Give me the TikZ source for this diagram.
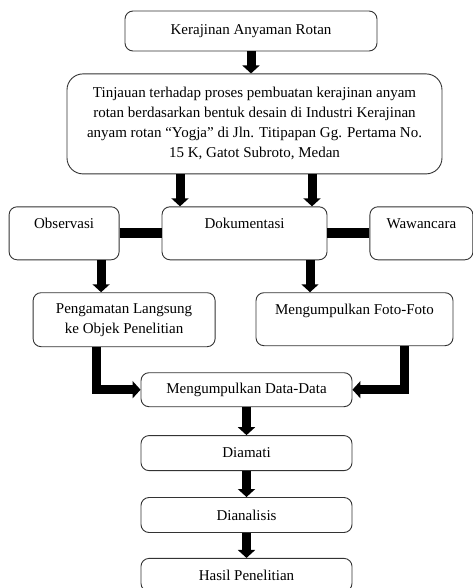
\documentclass[tikz,border=0pt]{standalone}
\usepackage{fontspec}
\setmainfont{Liberation Serif}
\usetikzlibrary{arrows.meta,positioning}
\tikzset{
  entity/.style   = {rectangle,draw=black!80,line width=0.9pt,rounded corners=8pt,align=center,
                     font=\fontsize{15}{20}\selectfont,inner sep=3pt,minimum width=211pt,minimum height=35pt},
  toptext/.style  = {text height=19pt,text depth=28pt},
  flow/.style     = {-{Triangle[width=17pt,length=8pt]},line width=9pt},
  bar/.style      = {line width=10pt},
}

\begin{document}
\begin{tikzpicture}[x=1pt,y=1pt]
\useasboundingbox (0,0) rectangle (473,-588);
\node[entity,minimum width=252pt,minimum height=40pt] (rotan) at (251,-31) {Kerajinan Anyaman Rotan};
\node[entity,minimum width=375pt,minimum height=100pt,rounded corners=16pt] (tinjauan) [below=22pt of rotan,xshift=3.5pt]
  {Tinjauan terhadap proses pembuatan kerajinan anyam\\rotan berdasarkan bentuk desain di Industri Kerajinan\\anyam rotan “Yogja” di Jln. Titipapan Gg. Pertama No.\\15 K, Gatot Subroto, Medan};
\node[entity,toptext,minimum width=165pt] (doku) [below=32pt of tinjauan,xshift=-10pt] {Dokumentasi};
\node[entity,toptext,minimum width=110pt] (obs) [left=42pt of doku] {Observasi};
\node[entity,toptext,minimum width=103pt] (waw) [right=42pt of doku] {Wawancara};
\node[entity,minimum width=182pt,minimum height=54pt] (peng) [below=32pt of obs,xshift=60pt] {Pengamatan Langsung\\ke Objek Penelitian};
\node[entity,toptext,minimum width=197pt] (foto) [below=32pt of doku,xshift=110pt] {Mengumpulkan Foto-Foto};
\node[entity,minimum height=34pt] (data) [below=112pt of doku,xshift=2pt] {Mengumpulkan Data-Data};
\node[entity] (diamati) [below=28pt of data] {Diamati};
\node[entity] (dianalisis) [below=26pt of diamati] {Dianalisis};
\node[entity,minimum height=33pt] (hasil) [below=25pt of dianalisis] {Hasil Penelitian};

\draw[flow] (rotan.south) -- (rotan.south |- tinjauan.north);
\draw[flow] ([xshift=-74.5pt]tinjauan.south) -- ([xshift=-74.5pt]tinjauan.south |- doku.north);
\draw[flow] ([xshift=57.5pt]tinjauan.south) -- ([xshift=57.5pt]tinjauan.south |- doku.north);
\draw[bar] (obs.east) -- (doku.west);
\draw[bar] (doku.east) -- (waw.west);
\draw[flow] ([xshift=37pt]obs.south) -- ([xshift=37pt]obs.south |- peng.north);
\draw[flow] ([xshift=65.5pt]doku.south) -- ([xshift=65.5pt]doku.south |- foto.north);
\draw[flow] ([xshift=-28pt]peng.south) |- (data.west);
\draw[flow] ([xshift=49.5pt]foto.south) |- (data.east);
\draw[flow] (data) -- (diamati);
\draw[flow] (diamati) -- (dianalisis);
\draw[flow] (dianalisis) -- (hasil);
\end{tikzpicture}
\end{document}
